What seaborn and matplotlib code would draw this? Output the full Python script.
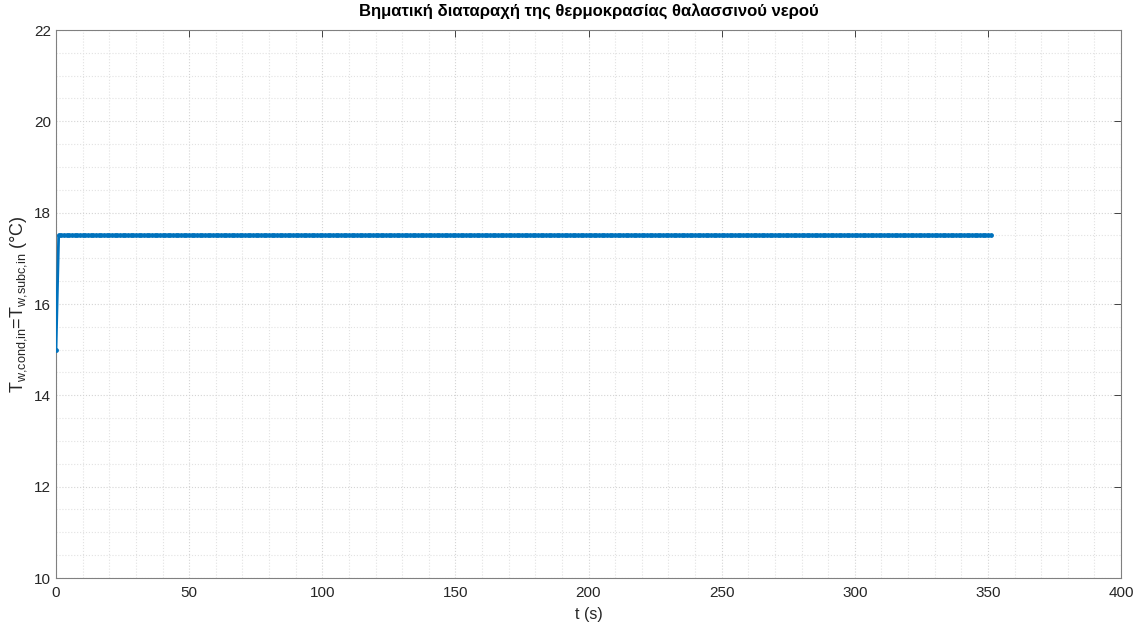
import numpy as np
import pandas as pd
import matplotlib
import matplotlib.pyplot as plt
import seaborn as sns
from matplotlib.ticker import MultipleLocator

matplotlib.use('Agg')

# Βηματική διαταραχή: 15 °C στο t=0, μετά 17.5 °C
t_s = list(range(0, 352))
T_w = [15.0] + [17.5] * 351

title = 'Βηματική διαταραχή της θερμοκρασίας θαλασσινού νερού'
xlabel = 't (s)'
ylabel = r'T$_{\mathrm{w{,}cond{,}in}}$=T$_{\mathrm{w{,}subc{,}in}}$ ($\degree$C)'

df = pd.DataFrame({'t': t_s, 'T': T_w})

sns.set_theme(style='white')
plt.rcParams['font.family'] = ['Liberation Sans', 'DejaVu Sans']
plt.rcParams['mathtext.fontset'] = 'custom'
plt.rcParams['mathtext.rm'] = 'Liberation Sans'
plt.rcParams['mathtext.it'] = 'Liberation Sans'

fig = plt.figure(figsize=(11.36, 6.24), dpi=100)
ax = fig.add_axes([56 / 1136, 46 / 624, 1065 / 1136, 548 / 624])

sns.lineplot(data=df, x='t', y='T', ax=ax, color='#0072BD', linewidth=2,
             marker='o', markersize=3.5, markeredgewidth=0, zorder=3)

ax.set_xlim(0, 400)
ax.set_ylim(10, 22)
ax.xaxis.set_major_locator(MultipleLocator(50))
ax.xaxis.set_minor_locator(MultipleLocator(10))
ax.yaxis.set_major_locator(MultipleLocator(2))
ax.yaxis.set_minor_locator(MultipleLocator(0.5))

ax.grid(True, which='major', color='#d4d4d4', linestyle=':', linewidth=0.8)
ax.grid(True, which='minor', color='#e2e2e2', linestyle=':', linewidth=0.8)
ax.set_axisbelow(True)

ax.tick_params(which='both', direction='in', top=True, right=True,
               colors='#262626', labelsize=11, length=5, width=0.6)
ax.tick_params(axis='x', pad=6)
ax.tick_params(which='minor', length=0)
for s in ax.spines.values():
    s.set_color('#808080')
    s.set_linewidth(0.8)

ax.set_title(title, fontsize=12, fontweight='bold', color='#000000', pad=10)
ax.set_xlabel(xlabel, fontsize=11.5, color='#262626', labelpad=5)
ax.set_ylabel(ylabel, fontsize=13, color='#262626', labelpad=4)

fig.savefig('out.png', dpi=100, facecolor='white')
